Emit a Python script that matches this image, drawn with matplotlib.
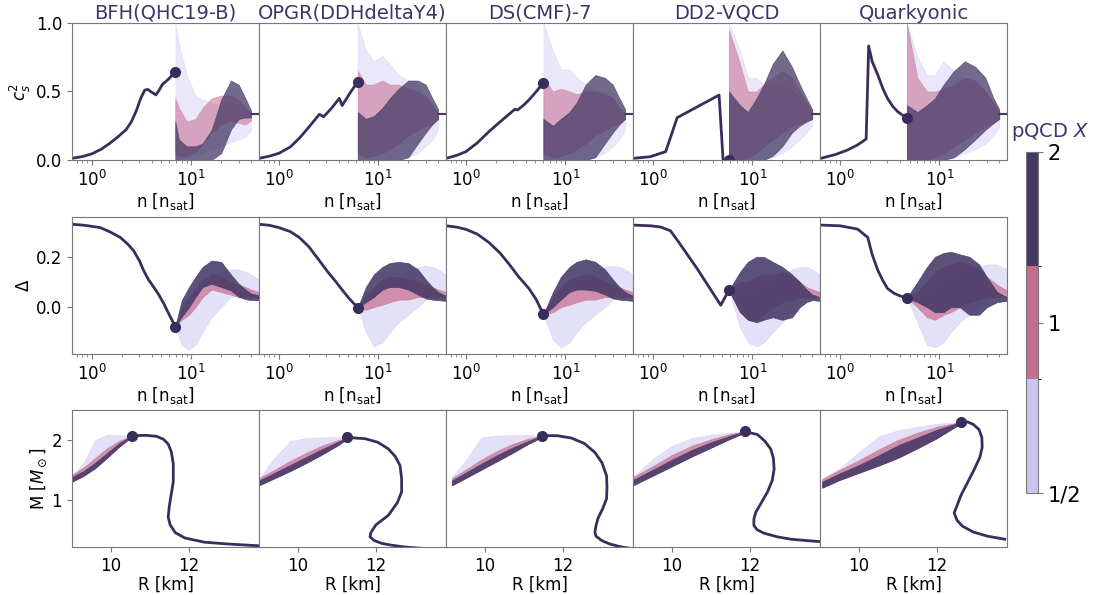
import numpy as np
import matplotlib.pyplot as plt
from matplotlib.colors import ListedColormap, BoundaryNorm
from matplotlib.cm import ScalarMappable

titles = ["BFH(QHC19-B)", "OPGR(DDHdeltaY4)", "DS(CMF)-7", "DD2-VQCD", "Quarkyonic"]

LIGHT = "#c9c5f0"
PINK = "#c76b8f"
DARK = "#453a66"
MAIN = "#3a2d5c"
TEXT = "#3f3368"
groups = ["light", "pink", "dark"]
group_colors = {"light": LIGHT, "pink": PINK, "dark": DARK}
alpha_row1 = {"light": 0.4, "pink": 0.55, "dark": 0.75}
alpha_row23 = {"light": 0.5, "pink": 0.7, "dark": 0.88}

CS2_CONF = 1 / 3
N_MAX = 40

# ---- row 1: sound speed squared, main (low-density) curves ----
cs2_n = [
    [0.63, 0.8, 1.0, 1.25, 1.5, 1.8, 2.2, 2.5, 2.8, 3.1, 3.4, 3.65, 3.9, 4.4, 4.75, 5.1, 5.9, 6.9],
    [0.63, 0.8, 1.0, 1.3, 1.6, 2.0, 2.55, 2.82, 3.4, 4.05, 4.32, 5.2, 6.2],
    [0.63, 0.8, 1.0, 1.3, 1.7, 2.3, 3.1, 3.3, 3.8, 4.3, 5.1, 6.0],
    [0.63, 0.94, 1.34, 1.75, 4.62, 5.07, 5.8],
    [0.64, 0.9, 1.19, 1.5, 1.83, 1.94, 2.1, 2.4, 2.7, 3.0, 3.4, 3.8, 4.2, 4.7],
]
cs2_v = [
    [0.012, 0.025, 0.045, 0.08, 0.12, 0.165, 0.22, 0.28, 0.36, 0.45, 0.51, 0.515, 0.50, 0.475,
     0.51, 0.55, 0.59, 0.645],
    [0.012, 0.028, 0.049, 0.095, 0.158, 0.24, 0.333, 0.316, 0.38, 0.45, 0.397, 0.49, 0.571],
    [0.012, 0.033, 0.061, 0.125, 0.207, 0.29, 0.37, 0.365, 0.40, 0.438, 0.50, 0.564],
    [0.012, 0.024, 0.061, 0.309, 0.474, 0.0, 0.0],
    [0.012, 0.04, 0.073, 0.11, 0.153, 0.832, 0.72, 0.62, 0.52, 0.45, 0.39, 0.353, 0.33, 0.309],
]

# ensemble envelopes above the matching density (n grid, then lo/hi per group)
cs2_ens_n = [
    [6.9, 7.5, 9, 11, 13, 16, 20, 25, 30, 35, 40],
    [6.2, 7.5, 9, 11, 13, 16, 20, 25, 30, 35, 40],
    [6.0, 7.5, 9, 11, 13, 16, 20, 25, 30, 35, 40],
    [5.8, 7.5, 9, 11, 13, 16, 20, 25, 30, 35, 40],
    [4.7, 6, 7.5, 9, 11, 14, 18, 23, 29, 35, 40],
]
cs2_light_lo = [
    [0, 0, 0.02, 0.03, 0.05, 0.08, 0.10, 0.13, 0.15, 0.17, 0.22],
    [0, 0, 0, 0, 0, 0, 0.02, 0.05, 0.10, 0.15, 0.22],
    [0, 0, 0, 0, 0, 0, 0.02, 0.05, 0.10, 0.15, 0.22],
    [0, 0, 0, 0, 0, 0.02, 0.05, 0.10, 0.15, 0.20, 0.25],
    [0, 0, 0, 0, 0, 0.02, 0.05, 0.08, 0.12, 0.18, 0.24],
]
cs2_light_hi = [
    [1.0, 0.85, 0.62, 0.47, 0.44, 0.42, 0.40, 0.42, 0.40, 0.35, 0.31],
    [1.0, 0.80, 0.72, 0.76, 0.70, 0.62, 0.58, 0.55, 0.48, 0.40, 0.33],
    [1.0, 0.80, 0.66, 0.66, 0.60, 0.55, 0.52, 0.50, 0.45, 0.38, 0.33],
    [1.0, 0.80, 0.60, 0.60, 0.55, 0.55, 0.55, 0.50, 0.45, 0.40, 0.33],
    [1.0, 0.75, 0.62, 0.62, 0.72, 0.65, 0.60, 0.55, 0.50, 0.42, 0.34],
]
cs2_pink_lo = [
    [0.05, 0.03, 0.03, 0.06, 0.12, 0.20, 0.26, 0.29, 0.27, 0.26, 0.29],
    [0.05, 0.02, 0.03, 0.05, 0.08, 0.12, 0.18, 0.22, 0.25, 0.27, 0.30],
    [0.05, 0.02, 0.03, 0.05, 0.08, 0.12, 0.18, 0.22, 0.25, 0.27, 0.30],
    [0, 0, 0.02, 0.05, 0.10, 0.15, 0.20, 0.25, 0.27, 0.28, 0.30],
    [0, 0, 0, 0.02, 0.05, 0.10, 0.15, 0.20, 0.25, 0.27, 0.30],
]
cs2_pink_hi = [
    [0.45, 0.38, 0.28, 0.30, 0.38, 0.45, 0.47, 0.47, 0.44, 0.38, 0.34],
    [0.65, 0.55, 0.55, 0.58, 0.55, 0.55, 0.52, 0.50, 0.46, 0.40, 0.34],
    [0.60, 0.50, 0.52, 0.50, 0.48, 0.50, 0.50, 0.48, 0.45, 0.38, 0.34],
    [0.95, 0.70, 0.50, 0.50, 0.55, 0.60, 0.65, 0.60, 0.50, 0.42, 0.35],
    [1.0, 0.60, 0.50, 0.50, 0.52, 0.55, 0.60, 0.58, 0.50, 0.42, 0.35],
]
cs2_dark_lo = [
    [0, 0, 0, 0, 0, 0, 0.05, 0.22, 0.30, 0.31, 0.31],
    [0, 0, 0, 0, 0, 0, 0.02, 0.12, 0.20, 0.26, 0.30],
    [0, 0, 0, 0, 0, 0, 0.02, 0.12, 0.20, 0.26, 0.30],
    [0, 0, 0, 0, 0, 0.03, 0.10, 0.20, 0.25, 0.28, 0.30],
    [0, 0, 0, 0, 0, 0.02, 0.08, 0.15, 0.22, 0.27, 0.30],
]
cs2_dark_hi = [
    [0.28, 0.15, 0.10, 0.10, 0.12, 0.22, 0.44, 0.58, 0.55, 0.45, 0.36],
    [0.35, 0.30, 0.32, 0.38, 0.45, 0.52, 0.58, 0.58, 0.55, 0.45, 0.37],
    [0.30, 0.25, 0.30, 0.35, 0.42, 0.55, 0.62, 0.60, 0.55, 0.45, 0.37],
    [0.50, 0.40, 0.35, 0.45, 0.55, 0.70, 0.80, 0.68, 0.55, 0.45, 0.37],
    [0.40, 0.35, 0.40, 0.45, 0.55, 0.65, 0.72, 0.68, 0.60, 0.45, 0.37],
]
cs2_match = [0.645, 0.571, 0.564, 0.0, 0.309]

# ---- row 2: trace anomaly Delta ----
delta_n = [
    [0.63, 0.8, 1.0, 1.21, 1.5, 1.93, 2.3, 2.63, 3.0, 3.31, 3.7, 4.18, 4.7, 5.27, 6.0, 6.9],
    [0.63, 0.8, 1.0, 1.3, 1.6, 2.0, 2.55, 3.1, 3.76, 4.4, 5.1, 6.2],
    [0.63, 0.8, 1.0, 1.3, 1.7, 2.2, 2.7, 3.4, 4.3, 5.1, 6.0],
    [0.63, 0.95, 1.2, 1.5, 1.8, 2.79, 4.8, 5.8],
    [0.63, 1.0, 1.5, 1.9, 2.1, 2.4, 2.7, 3.0, 3.5, 4.0, 4.7],
]
delta_v = [
    [0.329, 0.326, 0.321, 0.316, 0.300, 0.277, 0.250, 0.224, 0.185, 0.146, 0.110, 0.080, 0.050,
     0.015, -0.030, -0.077],
    [0.329, 0.325, 0.316, 0.300, 0.277, 0.240, 0.185, 0.140, 0.100, 0.065, 0.034, -0.002],
    [0.323, 0.318, 0.309, 0.290, 0.257, 0.215, 0.172, 0.120, 0.074, 0.030, -0.029],
    [0.326, 0.323, 0.318, 0.303, 0.260, 0.152, 0.008, 0.067],
    [0.326, 0.323, 0.310, 0.277, 0.210, 0.146, 0.105, 0.074, 0.055, 0.045, 0.037],
]
delta_ens_n = [
    [6.9, 8, 9.5, 11, 13, 16, 20, 25, 30, 35, 40, 48],
    [6.2, 7.5, 9, 11, 13, 16, 20, 25, 30, 35, 40, 48],
    [6.0, 7.5, 9, 11, 13, 16, 20, 25, 30, 35, 40, 48],
    [5.8, 7.5, 9, 11, 13, 16, 20, 25, 30, 35, 40, 48],
    [4.7, 6, 7.5, 9, 11, 13, 16, 20, 25, 30, 38, 48],
]
delta_light_lo = [
    [-0.077, -0.15, -0.17, -0.15, -0.10, -0.04, 0.0, 0.04, 0.05, 0.05, 0.05, 0.05],
    [-0.002, -0.10, -0.156, -0.14, -0.10, -0.06, -0.03, 0.0, 0.03, 0.04, 0.04, 0.04],
    [-0.029, -0.13, -0.16, -0.14, -0.10, -0.06, -0.03, 0.0, 0.03, 0.04, 0.04, 0.04],
    [0.067, -0.08, -0.14, -0.156, -0.14, -0.10, -0.06, -0.02, 0.02, 0.04, 0.05, 0.05],
    [0.037, -0.06, -0.15, -0.16, -0.14, -0.10, -0.06, -0.03, 0.0, 0.03, 0.05, 0.06],
]
delta_light_hi = [
    [-0.077, -0.02, 0.02, 0.05, 0.10, 0.13, 0.14, 0.15, 0.15, 0.14, 0.13, 0.11],
    [-0.002, 0.02, 0.05, 0.08, 0.10, 0.12, 0.14, 0.16, 0.165, 0.16, 0.15, 0.13],
    [-0.029, 0.02, 0.05, 0.08, 0.10, 0.12, 0.14, 0.16, 0.165, 0.16, 0.15, 0.13],
    [0.067, 0.05, 0.06, 0.07, 0.08, 0.10, 0.13, 0.15, 0.16, 0.16, 0.15, 0.13],
    [0.037, 0.03, 0.05, 0.08, 0.10, 0.11, 0.13, 0.15, 0.16, 0.17, 0.17, 0.15],
]
delta_pink_lo = [
    [-0.077, -0.05, -0.03, 0.0, 0.04, 0.07, 0.06, 0.05, 0.04, 0.04, 0.04, 0.035],
    [-0.002, -0.01, 0.0, 0.01, 0.02, 0.03, 0.03, 0.04, 0.04, 0.04, 0.04, 0.04],
    [-0.029, -0.02, 0.0, 0.01, 0.02, 0.03, 0.03, 0.04, 0.04, 0.04, 0.04, 0.04],
    [0.067, -0.02, -0.05, -0.05, -0.03, 0.0, 0.02, 0.03, 0.04, 0.04, 0.04, 0.04],
    [0.037, 0.0, -0.04, -0.05, -0.03, -0.02, 0.0, 0.02, 0.03, 0.04, 0.04, 0.04],
]
delta_pink_hi = [
    [-0.077, 0.0, 0.04, 0.07, 0.11, 0.13, 0.12, 0.10, 0.09, 0.08, 0.07, 0.06],
    [-0.002, 0.05, 0.08, 0.11, 0.12, 0.12, 0.11, 0.10, 0.09, 0.08, 0.07, 0.06],
    [-0.029, 0.04, 0.08, 0.11, 0.12, 0.13, 0.12, 0.10, 0.09, 0.08, 0.07, 0.06],
    [0.067, 0.10, 0.10, 0.12, 0.13, 0.13, 0.14, 0.12, 0.10, 0.08, 0.07, 0.06],
    [0.037, 0.06, 0.10, 0.14, 0.16, 0.17, 0.18, 0.17, 0.15, 0.12, 0.09, 0.065],
]
delta_dark_lo = [
    [-0.077, -0.038, 0.0, 0.04, 0.08, 0.093, 0.08, 0.067, 0.041, 0.032, 0.028, 0.028],
    [-0.002, 0.02, 0.04, 0.07, 0.08, 0.08, 0.07, 0.05, 0.035, 0.03, 0.028, 0.025],
    [-0.029, 0.0, 0.03, 0.06, 0.07, 0.07, 0.065, 0.05, 0.035, 0.03, 0.028, 0.025],
    [0.067, -0.02, -0.05, -0.06, -0.05, -0.04, -0.05, -0.04, 0.0, 0.02, 0.028, 0.025],
    [0.037, 0.02, 0.0, -0.02, -0.02, 0.0, 0.0, -0.03, -0.03, 0.0, 0.02, 0.025],
]
delta_dark_hi = [
    [-0.077, 0.027, 0.08, 0.12, 0.16, 0.185, 0.18, 0.13, 0.093, 0.07, 0.054, 0.047],
    [-0.002, 0.08, 0.13, 0.16, 0.175, 0.18, 0.175, 0.15, 0.11, 0.08, 0.06, 0.045],
    [-0.029, 0.06, 0.12, 0.16, 0.18, 0.19, 0.18, 0.15, 0.11, 0.08, 0.06, 0.045],
    [0.067, 0.14, 0.18, 0.20, 0.20, 0.18, 0.16, 0.13, 0.10, 0.07, 0.05, 0.04],
    [0.037, 0.10, 0.16, 0.20, 0.215, 0.22, 0.21, 0.20, 0.17, 0.12, 0.06, 0.04],
]

# ---- row 3: mass-radius ----
mr_R = [
    [13.8, 13.0, 12.4, 11.9, 11.65, 11.52, 11.47, 11.5, 11.55, 11.6, 11.6, 11.55, 11.47, 11.35,
     11.17, 10.9, 10.53],
    [13.5, 12.74, 12.4, 12.15, 11.95, 11.85, 11.87, 12.0, 12.32, 12.55, 12.66, 12.66, 12.62, 12.5,
     12.32, 12.05, 11.72, 11.27],
    [13.8, 13.5, 13.2, 12.99, 12.85, 12.82, 12.85, 12.9, 13.02, 13.12, 13.13, 13.12, 13.0, 12.82,
     12.55, 12.22, 11.85, 11.47],
    [13.78, 13.4, 13.05, 12.7, 12.36, 12.18, 12.1, 12.1, 12.15, 12.3, 12.45, 12.57, 12.62, 12.6,
     12.53, 12.38, 12.19, 11.86],
    [13.74, 13.3, 12.93, 12.65, 12.51, 12.44, 12.5, 12.62, 12.77, 12.95, 13.1, 13.16, 13.15, 13.08,
     12.93, 12.78, 12.62],
]
mr_M = [
    [0.23, 0.26, 0.29, 0.36, 0.45, 0.58, 0.71, 0.90, 1.10, 1.30, 1.60, 1.80, 1.93, 2.01, 2.06,
     2.075, 2.07],
    [0.17, 0.21, 0.24, 0.27, 0.32, 0.38, 0.45, 0.58, 0.74, 0.95, 1.13, 1.35, 1.57, 1.72, 1.85,
     1.96, 2.02, 2.04],
    [0.18, 0.21, 0.26, 0.32, 0.39, 0.46, 0.57, 0.69, 0.85, 1.02, 1.20, 1.40, 1.62, 1.79, 1.94,
     2.03, 2.07, 2.07],
    [0.30, 0.32, 0.34, 0.38, 0.44, 0.50, 0.57, 0.68, 0.79, 0.96, 1.13, 1.32, 1.51, 1.70, 1.85,
     1.98, 2.09, 2.14],
    [0.34, 0.39, 0.46, 0.56, 0.66, 0.78, 0.88, 1.08, 1.27, 1.50, 1.71, 1.88, 2.04, 2.17, 2.26,
     2.30, 2.30],
]
ens_R = [
    [9.0, 9.3, 9.6, 9.9, 10.2, 10.53],
    [9.0, 9.4, 9.8, 10.2, 10.6, 11.0, 11.27],
    [9.15, 9.5, 9.9, 10.3, 10.7, 11.1, 11.47],
    [9.0, 9.5, 10.0, 10.5, 11.0, 11.5, 11.86],
    [9.05, 9.5, 10.0, 10.5, 11.0, 11.5, 12.0, 12.62],
]
ens_M_lo = [
    [1.30, 1.40, 1.53, 1.70, 1.88, 2.05],
    [1.24, 1.36, 1.48, 1.61, 1.75, 1.90, 2.02],
    [1.24, 1.36, 1.50, 1.64, 1.78, 1.93, 2.05],
    [1.24, 1.40, 1.56, 1.72, 1.87, 2.02, 2.12],
    [1.20, 1.33, 1.45, 1.57, 1.70, 1.86, 2.03, 2.28],
]
ens_M_dark = [
    [1.38, 1.48, 1.62, 1.78, 1.94, 2.07],
    [1.32, 1.45, 1.58, 1.71, 1.84, 1.96, 2.04],
    [1.32, 1.45, 1.60, 1.74, 1.87, 1.98, 2.07],
    [1.33, 1.50, 1.67, 1.83, 1.96, 2.07, 2.14],
    [1.30, 1.44, 1.58, 1.74, 1.91, 2.04, 2.17, 2.30],
]
ens_M_pink = [
    [1.42, 1.54, 1.70, 1.86, 1.98, 2.07],
    [1.36, 1.50, 1.65, 1.78, 1.90, 1.99, 2.04],
    [1.36, 1.50, 1.67, 1.81, 1.93, 2.02, 2.07],
    [1.38, 1.56, 1.75, 1.90, 2.01, 2.10, 2.14],
    [1.34, 1.50, 1.66, 1.84, 2.00, 2.12, 2.22, 2.30],
]
ens_M_light = [
    [1.38, 1.62, 2.00, 2.09, 2.08, 2.07],
    [1.35, 1.70, 1.98, 2.03, 2.04, 2.05, 2.04],
    [1.38, 1.65, 2.04, 2.07, 2.08, 2.08, 2.07],
    [1.38, 1.68, 1.90, 2.03, 2.09, 2.12, 2.14],
    [1.36, 1.52, 1.80, 2.06, 2.16, 2.22, 2.27, 2.30],
]

plt.rcParams["font.family"] = "DejaVu Sans"
fig = plt.figure(figsize=(10.97, 5.95), dpi=100)

left0, width = 0.0656, 0.1705
bottoms = [0.7311, 0.405, 0.0807]
height = 0.2303


def style_axis(ax, col):
    for s in ax.spines.values():
        s.set_color("#777777")
    ax.tick_params(which="both", direction="out", color="#777777", labelsize=12)
    if col > 0:
        ax.tick_params(axis="y", which="both", labelleft=False, left=False)


def band(ax, x, lo, hi, color, alpha):
    ax.fill_between(x, lo, hi, facecolor=color, edgecolor=color, alpha=alpha, lw=0.5)


for col in range(5):
    x0 = left0 + col * width
    ax1 = fig.add_axes([x0, bottoms[0], width, height])
    ax2 = fig.add_axes([x0, bottoms[1], width, height])
    ax3 = fig.add_axes([x0, bottoms[2], width, height])

    # row 1
    n = cs2_ens_n[col]
    env = {
        "light": (cs2_light_lo[col], cs2_light_hi[col]),
        "pink": (cs2_pink_lo[col], cs2_pink_hi[col]),
        "dark": (cs2_dark_lo[col], cs2_dark_hi[col]),
    }
    for g in groups:
        lo, hi = env[g]
        band(ax1, n, lo, hi, group_colors[g], alpha_row1[g])
        ax1.plot([N_MAX, 48], [CS2_CONF, CS2_CONF], color=group_colors[g], lw=1.5)
    ax1.plot(cs2_n[col], cs2_v[col], color=MAIN, lw=2)
    ax1.plot(n[0], cs2_match[col], "o", color=MAIN, ms=7)
    ax1.set_xscale("log")
    ax1.set_xlim(0.63, 48)
    ax1.set_ylim(0, 1)
    ax1.set_yticks([0, 0.5, 1.0])
    ax1.set_xlabel(r"n [n$_{\rm sat}$]", fontsize=12, labelpad=1)
    ax1.set_title(titles[col], fontsize=14, color=TEXT, pad=3)
    style_axis(ax1, col)

    # row 2
    n = delta_ens_n[col]
    env = {
        "light": (delta_light_lo[col], delta_light_hi[col]),
        "pink": (delta_pink_lo[col], delta_pink_hi[col]),
        "dark": (delta_dark_lo[col], delta_dark_hi[col]),
    }
    for g in groups:
        lo, hi = env[g]
        band(ax2, n, lo, hi, group_colors[g], alpha_row23[g])
    ax2.plot(delta_n[col], delta_v[col], color=MAIN, lw=2)
    ax2.plot(n[0], delta_v[col][-1], "o", color=MAIN, ms=7)
    ax2.set_xscale("log")
    ax2.set_xlim(0.63, 48)
    ax2.set_ylim(-0.186, 0.358)
    ax2.set_yticks([0.0, 0.2])
    ax2.set_xlabel(r"n [n$_{\rm sat}$]", fontsize=12, labelpad=1)
    style_axis(ax2, col)

    # row 3
    R = ens_R[col]
    for g, top in [("light", ens_M_light), ("pink", ens_M_pink), ("dark", ens_M_dark)]:
        band(ax3, R, ens_M_lo[col], top[col], group_colors[g], alpha_row23[g])
    ax3.plot(mr_R[col], mr_M[col], color=MAIN, lw=2)
    ax3.plot(mr_R[col][-1], mr_M[col][-1], "o", color=MAIN, ms=7)
    ax3.set_xlim(9.0, 13.8)
    ax3.set_ylim(0.21, 2.5)
    ax3.set_xticks([10, 12])
    ax3.set_yticks([1, 2])
    ax3.set_xlabel("R [km]", fontsize=12, labelpad=1)
    style_axis(ax3, col)

    if col == 0:
        ax1.set_ylabel(r"$c_s^2$", fontsize=12, labelpad=2)
        ax2.set_ylabel(r"$\Delta$", fontsize=12, labelpad=2)
        ax3.set_ylabel(r"M [$M_\odot$]", fontsize=12, labelpad=2)

# colorbar for pQCD X (log2 scale, three discrete bins)
cmap = ListedColormap([LIGHT, PINK, DARK])
norm = BoundaryNorm([-1, -1 / 3, 1 / 3, 1], cmap.N)
cax = fig.add_axes([0.9353, 0.1714, 0.0109, 0.573])
cb = fig.colorbar(ScalarMappable(norm=norm, cmap=cmap), cax=cax, ticks=[-1, 0, 1])
cb.ax.set_yticklabels(["1/2", "1", "2"])
cb.ax.tick_params(labelsize=15, color="#777777")
cb.outline.set_edgecolor("#777777")
fig.text(0.957, 0.76, r"pQCD $X$", fontsize=14, color=TEXT, ha="center", va="bottom")

plt.savefig("out.png", dpi=100)
plt.close()
